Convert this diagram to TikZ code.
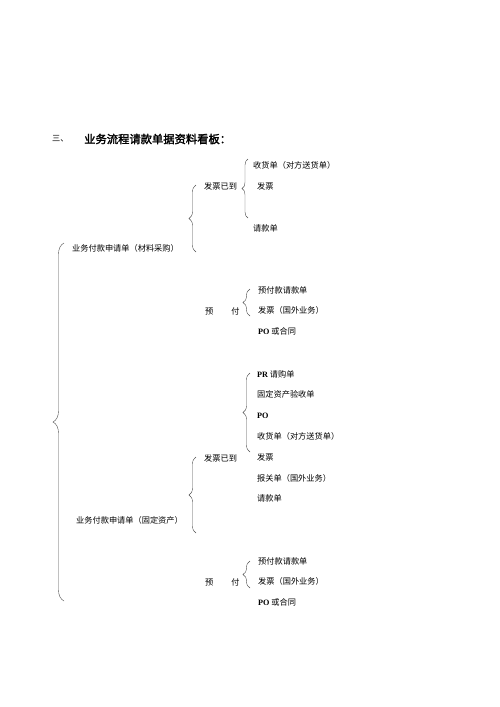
\documentclass[tikz,border=0pt]{standalone}
\usepackage{fontspec}
\setmainfont{Liberation Serif}
\newfontfamily\cjk[AutoFakeBold=2]{Noto Sans CJK SC}
\usetikzlibrary{decorations.pathreplacing}

\begin{document}
\begin{tikzpicture}[x=1pt, y=-1pt]
    	\tikzset{item/.style={anchor=west, inner sep=0pt, text=black, font=\cjk\fontsize{8.2}{10}\selectfont},
    		lbrace/.style={draw=black!70, decorate, decoration={brace, amplitude=#1}}}
    	\useasboundingbox (0,0) rectangle (500,707);
    	
    	% Title
    	\node[item] (t0) at (52,139) {三、};
    	\node[item, font=\cjk\bfseries\fontsize{11.3}{13}\selectfont] (t1) at (84,139) {业务流程请款单据资料看板：};
    	
    	% Requests
    	\node[item] (r1) at (72,248) {业务付款申请单（材料采购）};
    	\node[item] (r2) at (76,520) {业务付款申请单（固定资产）};
    	
    	% Cases
    	\node[item] (a1) at (204,186) {发票已到};
    	\node[item] (a2) at (205,311) {预\hspace{18pt}付};
    	\node[item] (b1) at (204,458) {发票已到};
    	\node[item] (b2) at (205,582) {预\hspace{18pt}付};
    	
    	% Documents, materials
    	\node[item] (a11) at (253,165) {收货单（对方送货单）};
    	\node[item] (a12) at (257,186) {发票};
    	\node[item] (a13) at (253,228) {请款单};
    	\foreach \t [count=\n] in {预付款请款单, 发票（国外业务）, {{\rmfamily\bfseries PO} 或合同}}{
    		\node[item] (a2\n) at (258,{290+20.8*(\n-1)}) {\t};
    	}
    	
    	% Documents, fixed assets
    	\foreach \t [count=\n] in {{{\rmfamily\bfseries PR} 请购单}, 固定资产验收单, {{\rmfamily\bfseries PO}}, 收货单（对方送货单）, 发票, 报关单（国外业务）, 请款单}{
    		\node[item] (b1\n) at (257,{374+20.8*(\n-1)}) {\t};
    	}
    	\foreach \t [count=\n] in {预付款请款单, 发票（国外业务）, {{\rmfamily\bfseries PO} 或合同}}{
    		\node[item] (b2\n) at (258,{561+20.8*(\n-1)}) {\t};
    	}
    	
    	% Braces
    	\foreach \nm/\x/\top/\bot/\amp in {k0/64/243/601/11, k1/196/185/252/7, k11/248/159/218/6,
    		k12/250/289/316/7, k2/196/457/533/7, k21/250/373/452/7, k22/250/561/588/7}{
    		\coordinate (\nm t) at (\x,\top);
    		\coordinate (\nm b) at (\x,\bot);
    		\draw[lbrace=\amp] (\nm b) -- (\nm t);
    	}
\end{tikzpicture}
\end{document}
